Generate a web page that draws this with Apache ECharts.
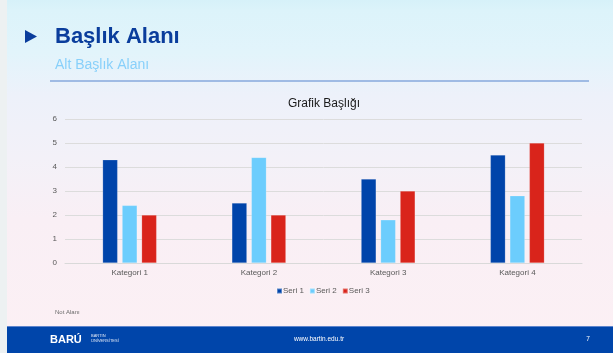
<!DOCTYPE html>
<html>
<head>
<meta charset="utf-8">
<title>Başlık Alanı</title>
<script src="https://cdn.jsdelivr.net/npm/echarts@6/dist/echarts.min.js"></script>
<style>
  html, body { margin: 0; padding: 0; background: #edf1f2; }
  #chart { width: 613px; height: 353px; }
</style>
</head>
<body>
<div id="chart"></div>
<script>
// Chart data
const categories = ['Kategori 1', 'Kategori 2', 'Kategori 3', 'Kategori 4'];
const seriesNames = ['Seri 1', 'Seri 2', 'Seri 3'];
const seri1 = [4.3, 2.5, 3.5, 4.5];
const seri2 = [2.4, 4.4, 1.8, 2.8];
const seri3 = [2, 2, 3, 5];
const yTicks = [0, 1, 2, 3, 4, 5, 6];

// Slide texts
const slideTitle = 'Başlık Alanı';
const slideSubtitle = 'Alt Başlık Alanı';
const chartTitle = 'Grafik Başlığı';
const noteText = 'Not Alanı';
const footerUrl = 'www.bartin.edu.tr';
const pageNumber = '7';

const FONT = '"Liberation Sans", Arial, sans-serif';
const colors = ['#0044aa', '#6ccdfd', '#d9241b'];

const chart = echarts.init(document.getElementById('chart'), null, { renderer: 'canvas' });

const seriesData = [seri1, seri2, seri3];

chart.setOption({
  animation: false,
  textStyle: { fontFamily: FONT },
  title: {
    text: chartTitle,
    left: 319,
    textAlign: 'center',
    top: 93,
    textStyle: { fontSize: 12, fontWeight: 'normal', color: '#1a1a1a', fontFamily: FONT }
  },
  legend: {
    data: seriesNames,
    left: 271,
    top: 282,
    itemWidth: 5,
    itemHeight: 5,
    itemGap: 5,
    icon: 'rect',
    textStyle: { fontSize: 8, color: '#595959', fontFamily: FONT, padding: [0, 0, 0, -4] }
  },
  grid: { left: 65, right: 31, top: 119, bottom: 90 },
  xAxis: {
    type: 'category',
    data: categories,
    axisLine: { show: true, lineStyle: { color: '#d9d9d9' } },
    axisTick: { show: false },
    axisLabel: { fontSize: 8, color: '#595959', margin: 6, fontFamily: FONT }
  },
  yAxis: {
    type: 'value',
    min: yTicks[0],
    max: yTicks[yTicks.length - 1],
    interval: 1,
    axisLine: { show: false },
    axisTick: { show: false },
    splitLine: { lineStyle: { color: '#dcdcdc', width: 1 } },
    axisLabel: { fontSize: 8, color: '#595959', margin: 8, fontFamily: FONT }
  },
  series: seriesNames.map((name, i) => ({
    name: name,
    type: 'bar',
    data: seriesData[i],
    barWidth: 15,
    barGap: '30%',
    itemStyle: { color: colors[i], borderColor: 'rgba(255,255,255,0.35)', borderWidth: 0.5 }
  })),
  graphic: [
    // slide background
    {
      type: 'rect', z: -10, silent: true,
      shape: { x: 7, y: 0, width: 606, height: 353 },
      style: {
        fill: new echarts.graphic.LinearGradient(0, 0, 0, 1, [
          { offset: 0, color: '#d6f1f9' },
          { offset: 0.03, color: '#dcf3fa' },
          { offset: 0.15, color: '#e2f4fb' },
          { offset: 0.27, color: '#edf1fa' },
          { offset: 0.45, color: '#f3f1f8' },
          { offset: 0.62, color: '#f9eff5' },
          { offset: 1, color: '#fcf0f4' }
        ])
      }
    },
    // header marker
    {
      type: 'polygon', silent: true,
      shape: { points: [[25, 30], [37, 36.5], [25, 43]] },
      style: { fill: '#0a3d9c' }
    },
    {
      type: 'text', silent: true, x: 55, y: 37,
      style: { text: slideTitle, fill: '#0a3d9c', font: 'bold 22px ' + FONT, textVerticalAlign: 'middle' }
    },
    {
      type: 'text', silent: true, x: 55, y: 65.5,
      style: { text: slideSubtitle, fill: '#88d0fa', font: '14px ' + FONT, textVerticalAlign: 'middle' }
    },
    {
      type: 'line', silent: true,
      shape: { x1: 50, y1: 81, x2: 589, y2: 81 },
      style: { stroke: '#86a9dd', lineWidth: 1.5 }
    },
    // note
    {
      type: 'text', silent: true, x: 55, y: 312,
      style: { text: noteText, fill: '#6b6b6b', font: '6px ' + FONT, textVerticalAlign: 'middle' }
    },
    // footer
    {
      type: 'rect', silent: true,
      shape: { x: 7, y: 326, width: 606, height: 27 },
      style: { fill: '#0045aa' }
    },
    {
      type: 'line', silent: true,
      shape: { x1: 7, y1: 326.5, x2: 613, y2: 326.5 },
      style: { stroke: '#5d84cc', lineWidth: 1 }
    },
    {
      type: 'text', silent: true, x: 50, y: 339.5,
      style: { text: 'BARÚ', fill: '#ffffff', font: 'bold 11px ' + FONT, textVerticalAlign: 'middle' }
    },
    {
      type: 'text', silent: true, x: 91, y: 336,
      style: { text: 'BARTIN', fill: '#dfe7f5', font: '4px ' + FONT, textVerticalAlign: 'middle' }
    },
    {
      type: 'text', silent: true, x: 91, y: 341,
      style: { text: 'ÜNİVERSİTESİ', fill: '#dfe7f5', font: '4px ' + FONT, textVerticalAlign: 'middle' }
    },
    {
      type: 'text', silent: true, x: 319, y: 339.5,
      style: { text: footerUrl, fill: '#ffffff', font: '6.5px ' + FONT, textAlign: 'center', textVerticalAlign: 'middle' }
    },
    {
      type: 'text', silent: true, x: 588, y: 339.5,
      style: { text: pageNumber, fill: '#ffffff', font: '6.5px ' + FONT, textAlign: 'center', textVerticalAlign: 'middle' }
    }
  ]
});
</script>
</body>
</html>
